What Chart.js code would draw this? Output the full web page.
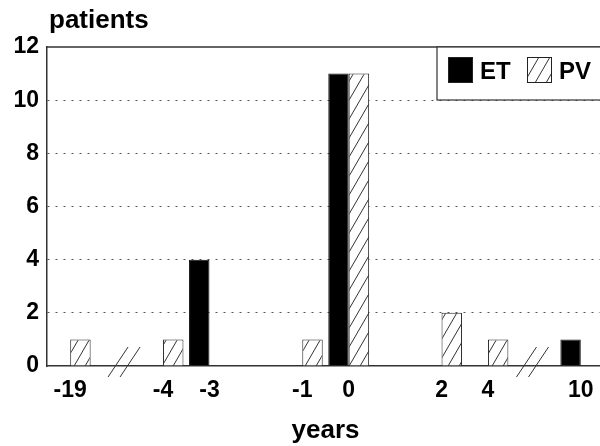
<!DOCTYPE html>
<html><head><meta charset="utf-8">
<script src="https://cdn.jsdelivr.net/npm/chart.js@4"></script>
<style>html,body{margin:0;padding:0;background:#fff;overflow:hidden;width:600px;height:446px}
canvas{display:block}</style></head><body>
<canvas id="c" width="608" height="446"></canvas>
<script>
// ---- data ----
const categories = ['-19','','-4','-3','','-1','0','','2','4','','10'];
const etValues   = [null,null,null,4,null,null,11,null,null,null,null,1];
const pvValues   = [1,null,1,null,null,1,11,null,2,1,null,null];
const yTicks     = [0,2,4,6,8,10,12];
const seriesNames = ['ET','PV'];
const axisBreaks = [1.16, 9.96];
const yTitle = 'patients';
const xTitle = 'years';

const FONT = "'Liberation Sans', Arial, Helvetica, sans-serif";
const canvas = document.getElementById('c');
const ctx = canvas.getContext('2d');

function makeHatch(){
  const w = 11, h = 19;
  const c = document.createElement('canvas');
  c.width = w; c.height = h;
  const g = c.getContext('2d');
  g.fillStyle = '#fff'; g.fillRect(0,0,w,h);
  g.strokeStyle = '#333'; g.lineWidth = 1;
  g.beginPath();
  for (const o of [-w, 0, w]) { g.moveTo(o, h); g.lineTo(o + w, 0); }
  g.stroke();
  return ctx.createPattern(c, 'repeat');
}
const hatch = makeHatch();

const decor = {
  id: 'decor',
  afterDraw(chart){
    const {ctx, chartArea: a, scales} = chart;
    ctx.save();
    // top frame line
    ctx.strokeStyle = '#333'; ctx.lineWidth = 1.5;
    ctx.beginPath(); ctx.moveTo(a.left, a.top); ctx.lineTo(a.right, a.top); ctx.stroke();
    // y title
    ctx.fillStyle = '#000';
    ctx.font = 'bold 26px ' + FONT;
    ctx.textBaseline = 'alphabetic'; ctx.textAlign = 'left';
    ctx.fillText(yTitle, 49, 28);
    // axis breaks
    ctx.strokeStyle = '#333'; ctx.lineWidth = 1;
    for (const b of axisBreaks) {
      const cx = scales.x.getPixelForValue(b);
      const cy = a.bottom - 4;
      ctx.beginPath();
      for (const dx of [-6, 6]) {
        ctx.moveTo(cx + dx - 10, cy + 15);
        ctx.lineTo(cx + dx + 10, cy - 15);
      }
      ctx.stroke();
    }
    // legend box
    const bx = 437, by = a.top, bw = 200, bh = 53;
    ctx.fillStyle = '#fff';
    ctx.fillRect(bx, by, bw, bh);
    ctx.strokeStyle = '#333'; ctx.lineWidth = 1.2;
    ctx.strokeRect(bx, by, bw, bh);
    const ds = chart.data.datasets;
    const items = [{sx: 448, tx: 480}, {sx: 527, tx: 559}];
    ctx.font = 'bold 24px ' + FONT;
    ctx.textBaseline = 'middle';
    ds.forEach((d, i) => {
      const it = items[i];
      ctx.fillStyle = d.backgroundColor;
      ctx.fillRect(it.sx, by + 10, 25, 26);
      ctx.strokeStyle = '#222'; ctx.lineWidth = 1;
      ctx.strokeRect(it.sx + 0.5, by + 10.5, 24, 25);
      ctx.fillStyle = '#000';
      ctx.fillText(d.label, it.tx, by + 25);
    });
    ctx.restore();
  }
};

new Chart(ctx, {
  type: 'bar',
  data: {
    labels: categories,
    datasets: [
      {label: seriesNames[0], data: etValues, backgroundColor: '#000', borderColor: '#111', borderWidth: 1},
      {label: seriesNames[1], data: pvValues, backgroundColor: hatch, borderColor: '#222', borderWidth: 1}
    ]
  },
  options: {
    responsive: false,
    animation: false,
    devicePixelRatio: 1,
    categoryPercentage: 0.88,
    barPercentage: 1.0,
    layout: {padding: {top: 47, right: 4, left: 0, bottom: 0}},
    plugins: {legend: {display: false}, tooltip: {enabled: false}},
    scales: {
      x: {
        type: 'category',
        offset: true,
        grid: {display: false, drawTicks: false},
        border: {display: true, color: '#333', width: 1.5},
        ticks: {autoSkip: false, maxRotation: 0, minRotation: 0, padding: 11,
                color: '#000', font: {family: FONT, size: 23, weight: 'bold'}},
        title: {display: true, text: xTitle, color: '#000',
                font: {family: FONT, size: 26, weight: 'bold'}, padding: {top: 0, bottom: 0}},
        afterFit(s){ s.height = 80; }
      },
      y: {
        min: 0, max: 12,
        afterBuildTicks(s){ s.ticks = yTicks.map(v => ({value: v})); },
        grid: {drawTicks: false, lineWidth: 1,
               color: c => (c.tick && (c.tick.value === 0 || c.tick.value === 12)) ? 'rgba(0,0,0,0)' : '#555'},
        border: {display: true, color: '#333', width: 1.5, dash: [2, 6]},
        ticks: {padding: 8, color: '#000', font: {family: FONT, size: 23, weight: 'bold'}},
        afterFit(s){ s.width = 47; }
      }
    }
  },
  plugins: [decor]
});
</script>
</body></html>
